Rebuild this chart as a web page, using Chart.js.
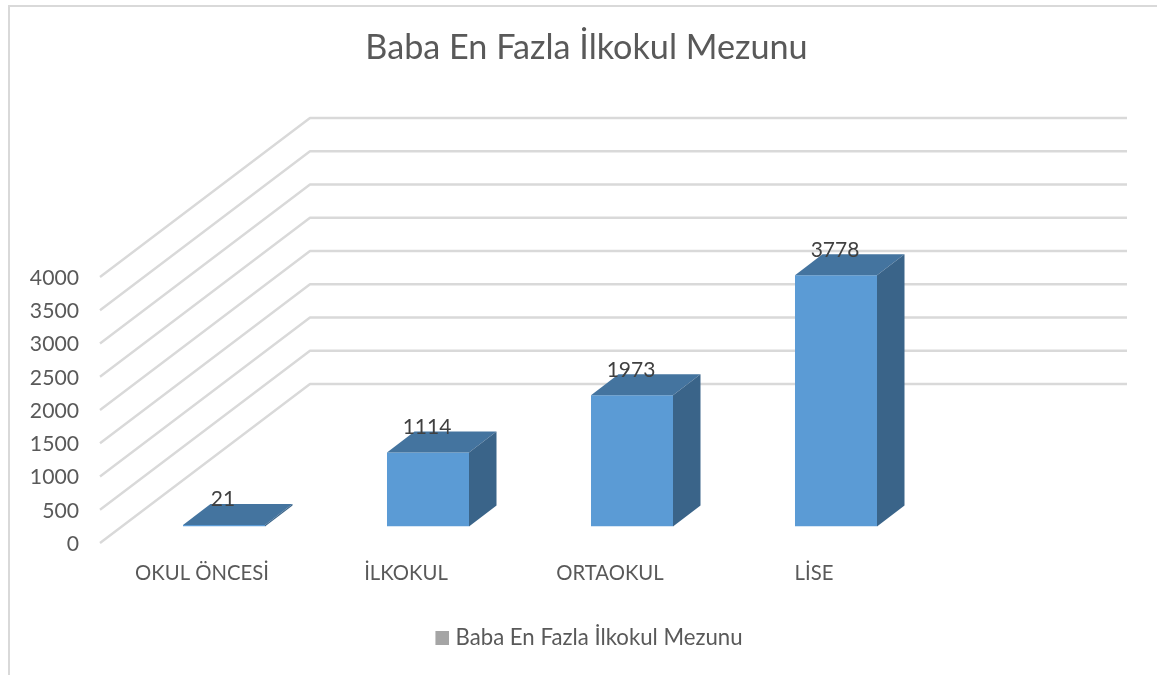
<!DOCTYPE html>
<html lang="tr">
<head>
<meta charset="utf-8">
<title>Baba En Fazla İlkokul Mezunu</title>
<script src="https://cdn.jsdelivr.net/npm/chart.js@4"></script>
<style>
  html,body{margin:0;padding:0;background:#fff;width:1157px;height:675px;overflow:hidden}
  #frame{position:absolute;left:8px;top:5px;width:1149px;height:670px;border-left:2px solid #d9d9d9;border-top:2px solid #d9d9d9;overflow:hidden}
  #wrap{position:absolute;left:0;top:0;width:1153px;height:668px}
</style>
</head>
<body>
<div id="frame"><div id="wrap"><canvas id="c"></canvas></div></div>
<script>
const categories = ["OKUL ÖNCESİ", "İLKOKUL", "ORTAOKUL", "LİSE"];
const seriesName = "Baba En Fazla İlkokul Mezunu";
const seriesValues = [21, 1114, 1973, 3778];
const yMin = 0, yMax = 4000, yStep = 500;

const FONT = "Lato, Carlito, Calibri, sans-serif";
const depth = {dx: 27.5, dy: -21};
const floor = {frontX: -22, frontY: 16.5, backDx: 210, backDy: -159, wallW: 817};

// Legend swatch: 14px grey square, sitting close to its text
const swatch = document.createElement('canvas');
swatch.width = 24; swatch.height = 14;
const sctx = swatch.getContext('2d');
sctx.fillStyle = '#a5a5a5';
sctx.fillRect(10, 0, 14, 14);

const perspective = {
  id: 'perspective',
  beforeDatasetsDraw(chart) {
    const {ctx, scales: {y}, chartArea: a} = chart;
    ctx.save();
    ctx.strokeStyle = '#d9d9d9';
    ctx.lineWidth = 2.4;
    ctx.lineJoin = 'round';
    y.ticks.forEach(t => {
      const py = y.getPixelForValue(t.value);
      const x0 = a.left + floor.frontX, y0 = py + floor.frontY;
      ctx.beginPath();
      ctx.moveTo(x0, y0);
      ctx.lineTo(x0 + floor.backDx, y0 + floor.backDy);
      ctx.lineTo(x0 + floor.backDx + floor.wallW, y0 + floor.backDy);
      ctx.stroke();
    });
    ctx.restore();
  },
  afterDatasetsDraw(chart) {
    const {ctx} = chart;
    const meta = chart.getDatasetMeta(0);
    ctx.save();
    meta.data.forEach((bar, i) => {
      const l = bar.x - bar.width / 2, r = bar.x + bar.width / 2, t = bar.y, b = bar.base;
      ctx.fillStyle = '#44749f';
      ctx.beginPath();
      ctx.moveTo(l, t); ctx.lineTo(l + depth.dx, t + depth.dy);
      ctx.lineTo(r + depth.dx, t + depth.dy); ctx.lineTo(r, t);
      ctx.closePath(); ctx.fill();
      if (b - t > 0) {
        ctx.fillStyle = '#3a6489';
        ctx.beginPath();
        ctx.moveTo(r, t); ctx.lineTo(r + depth.dx, t + depth.dy);
        ctx.lineTo(r + depth.dx, b + depth.dy); ctx.lineTo(r, b);
        ctx.closePath(); ctx.fill();
      }
      ctx.fillStyle = '#404040';
      ctx.font = '21px ' + FONT;
      ctx.textAlign = 'center';
      ctx.textBaseline = 'middle';
      ctx.fillText(String(seriesValues[i]), bar.x - 1, t - 25.5);
    });
    ctx.restore();
  }
};

new Chart(document.getElementById('c'), {
  type: 'bar',
  data: {
    labels: categories,
    datasets: [{
      label: seriesName,
      data: seriesValues,
      backgroundColor: '#5b9bd5',
      borderWidth: 0,
      barPercentage: 0.402,
      categoryPercentage: 1
    }]
  },
  options: {
    responsive: true,
    maintainAspectRatio: false,
    animation: false,
    layout: {padding: {left: 0, right: 0, top: 0, bottom: 15.8}},
    plugins: {
      title: {
        display: true,
        text: seriesName,
        color: '#595959',
        font: {family: FONT, size: 34.2, weight: 'normal'},
        padding: {top: 20, bottom: 192.5}
      },
      legend: {
        position: 'bottom',
        labels: {
          color: '#595959',
          font: {family: FONT, size: 22.2},
          usePointStyle: true,
          pointStyleWidth: 14,
          boxWidth: 14,
          boxHeight: 14,
          padding: 10,
          generateLabels: () => [{text: seriesName, fillStyle: '#a5a5a5', strokeStyle: '#a5a5a5', lineWidth: 0, fontColor: '#595959', pointStyle: swatch, datasetIndex: 0}]
        }
      },
      tooltip: {enabled: false}
    },
    scales: {
      x: {
        grid: {display: false, drawTicks: false},
        border: {display: false},
        afterFit(s) { s.height = 90.5; },
        ticks: {
          color: '#595959',
          font: {family: FONT, size: 20.3},
          padding: 35,
          labelOffset: -22,
          maxRotation: 0,
          autoSkip: false
        }
      },
      y: {
        min: yMin,
        max: yMax,
        grid: {display: false, drawTicks: false},
        border: {display: false},
        afterFit(s) { s.width = 112; },
        ticks: {
          stepSize: yStep,
          color: '#595959',
          font: {family: FONT, size: 21.2},
          padding: 43,
          labelOffset: 17.5,
          callback: v => String(v)
        }
      },
      // empty right-hand band that holds the plot to its width without off-centring title and legend
      rightBand: {
        position: 'right',
        min: yMin,
        max: yMax,
        grid: {display: false, drawTicks: false},
        border: {display: false},
        ticks: {display: false},
        afterFit(s) { s.width = 225; }
      }
    }
  },
  plugins: [perspective]
});
</script>
</body>
</html>
